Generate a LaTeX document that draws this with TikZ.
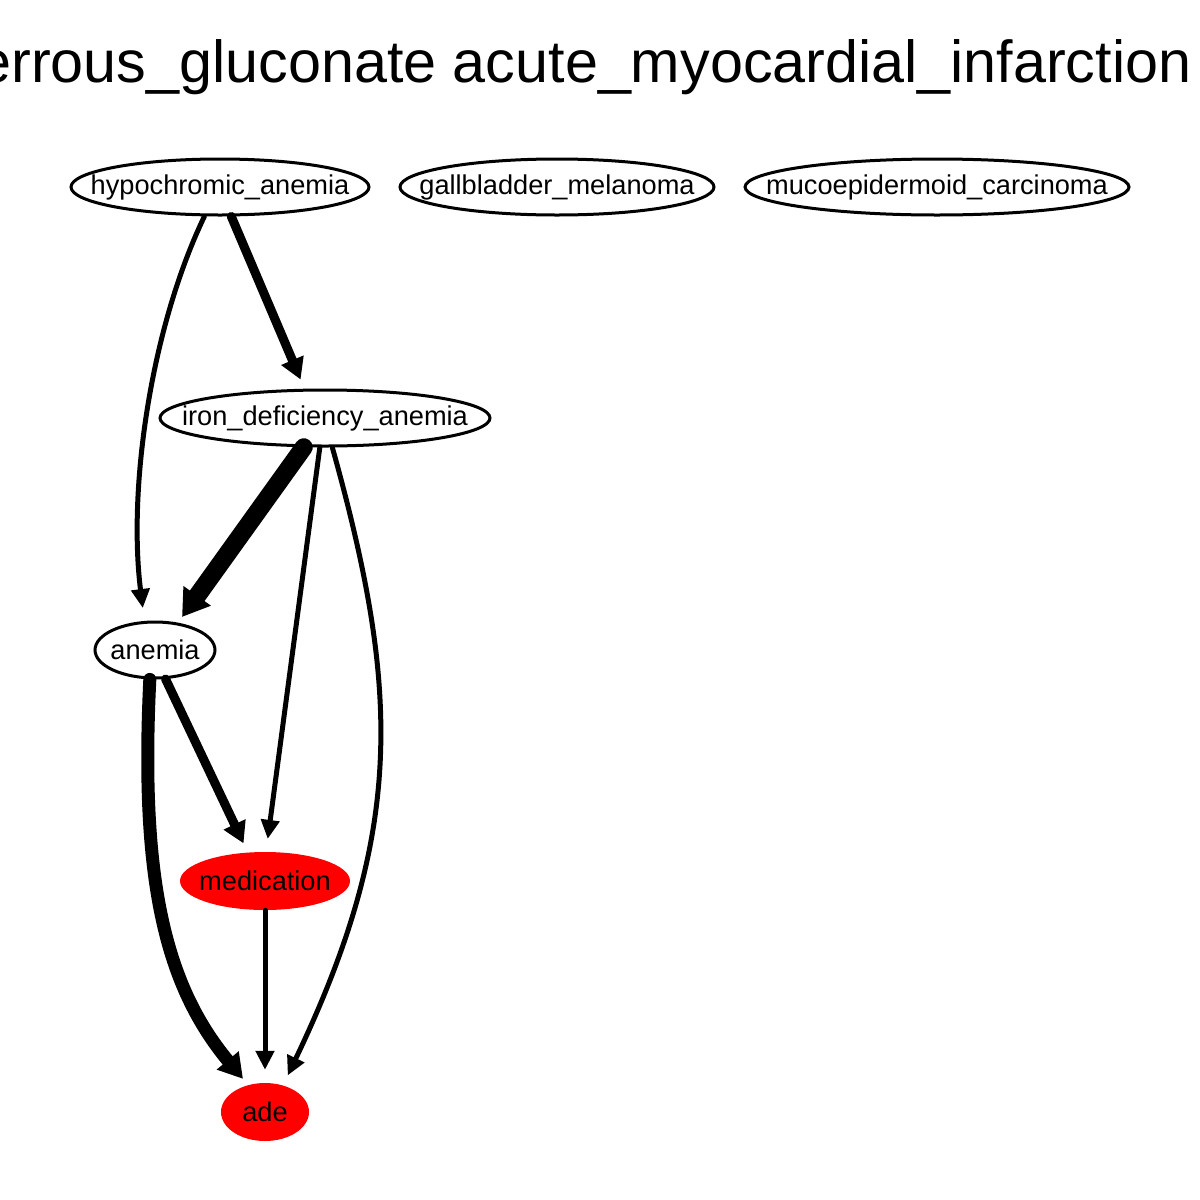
\documentclass[tikz,border=0pt]{standalone}
\usepackage{fontspec}
\setmainfont{Liberation Sans}
\usetikzlibrary{arrows.meta,shapes.geometric}
\newcommand{\nodetext}[1]{\makebox[0pt]{#1}}
\begin{document}
\begin{tikzpicture}[x=1pt,y=-1pt,
  ell/.style={ellipse,draw=black,line width=3pt,inner sep=0pt,font=\fontsize{27.2}{30}\selectfont},
  redell/.style={ellipse,fill=red,inner sep=0pt,font=\fontsize{27.2}{30}\selectfont},
  edge/.style={draw=black,line cap=round,line join=round},
  w1/.style={line width=5pt,-{Triangle[length=19pt,width=18pt]}},
  w2/.style={line width=9pt,-{Triangle[length=21pt,width=23pt]}},
  w3/.style={line width=13pt,-{Triangle[length=24pt,width=27pt]}},
  w4/.style={line width=18pt,-{Triangle[length=26pt,width=32pt]}}]
\useasboundingbox (0,0) rectangle (1200,1200);
\node[anchor=base east,font=\fontsize{59.3}{66}\selectfont] (title) at (1195,82) {ferrous\_gluconate acute\_myocardial\_infarction};
\node[ell,minimum width=298pt,minimum height=56pt] (h) at (220,187) {\nodetext{hypochromic\_anemia}};
\node[ell,minimum width=314pt,minimum height=56pt] (g) at (557,187) {\nodetext{gallbladder\_melanoma}};
\node[ell,minimum width=384pt,minimum height=56pt] (mc) at (937,187) {\nodetext{mucoepidermoid\_carcinoma}};
\node[ell,minimum width=330pt,minimum height=56pt] (i) at (325,418) {\nodetext{iron\_deficiency\_anemia}};
\node[ell,minimum width=120pt,minimum height=56pt] (a) at (155,650) {\nodetext{anemia}};
\node[redell,minimum width=170pt,minimum height=58pt] (m) at (265,881) {\nodetext{medication}};
\node[redell,minimum width=88pt,minimum height=58pt] (d) at (265,1112) {\nodetext{ade}};
% edges
\draw[edge,w1,shorten >=13pt] (h.242) .. controls (150,330) and (128,490) .. (a.110);
\draw[edge,w2,shorten >=10pt] (h.291) -- (i.125);
\draw[edge,w4,shorten >=7pt] (i.234) -- (a.50);
\draw[edge,w1,shorten >=13pt] (i.260) -- (m.88);
\draw[edge,w1,shorten >=11pt] (i.284) .. controls (400,690) and (405,830) .. (d.56);
\draw[edge,w2,shorten >=10pt] (a.290) -- (m.121);
\draw[edge,w3,shorten >=8pt] (a.260) .. controls (140,880) and (165,985) .. (d.122);
\draw[edge,w1,shorten >=13pt] (m.south) -- (d.north);
\end{tikzpicture}
\end{document}
